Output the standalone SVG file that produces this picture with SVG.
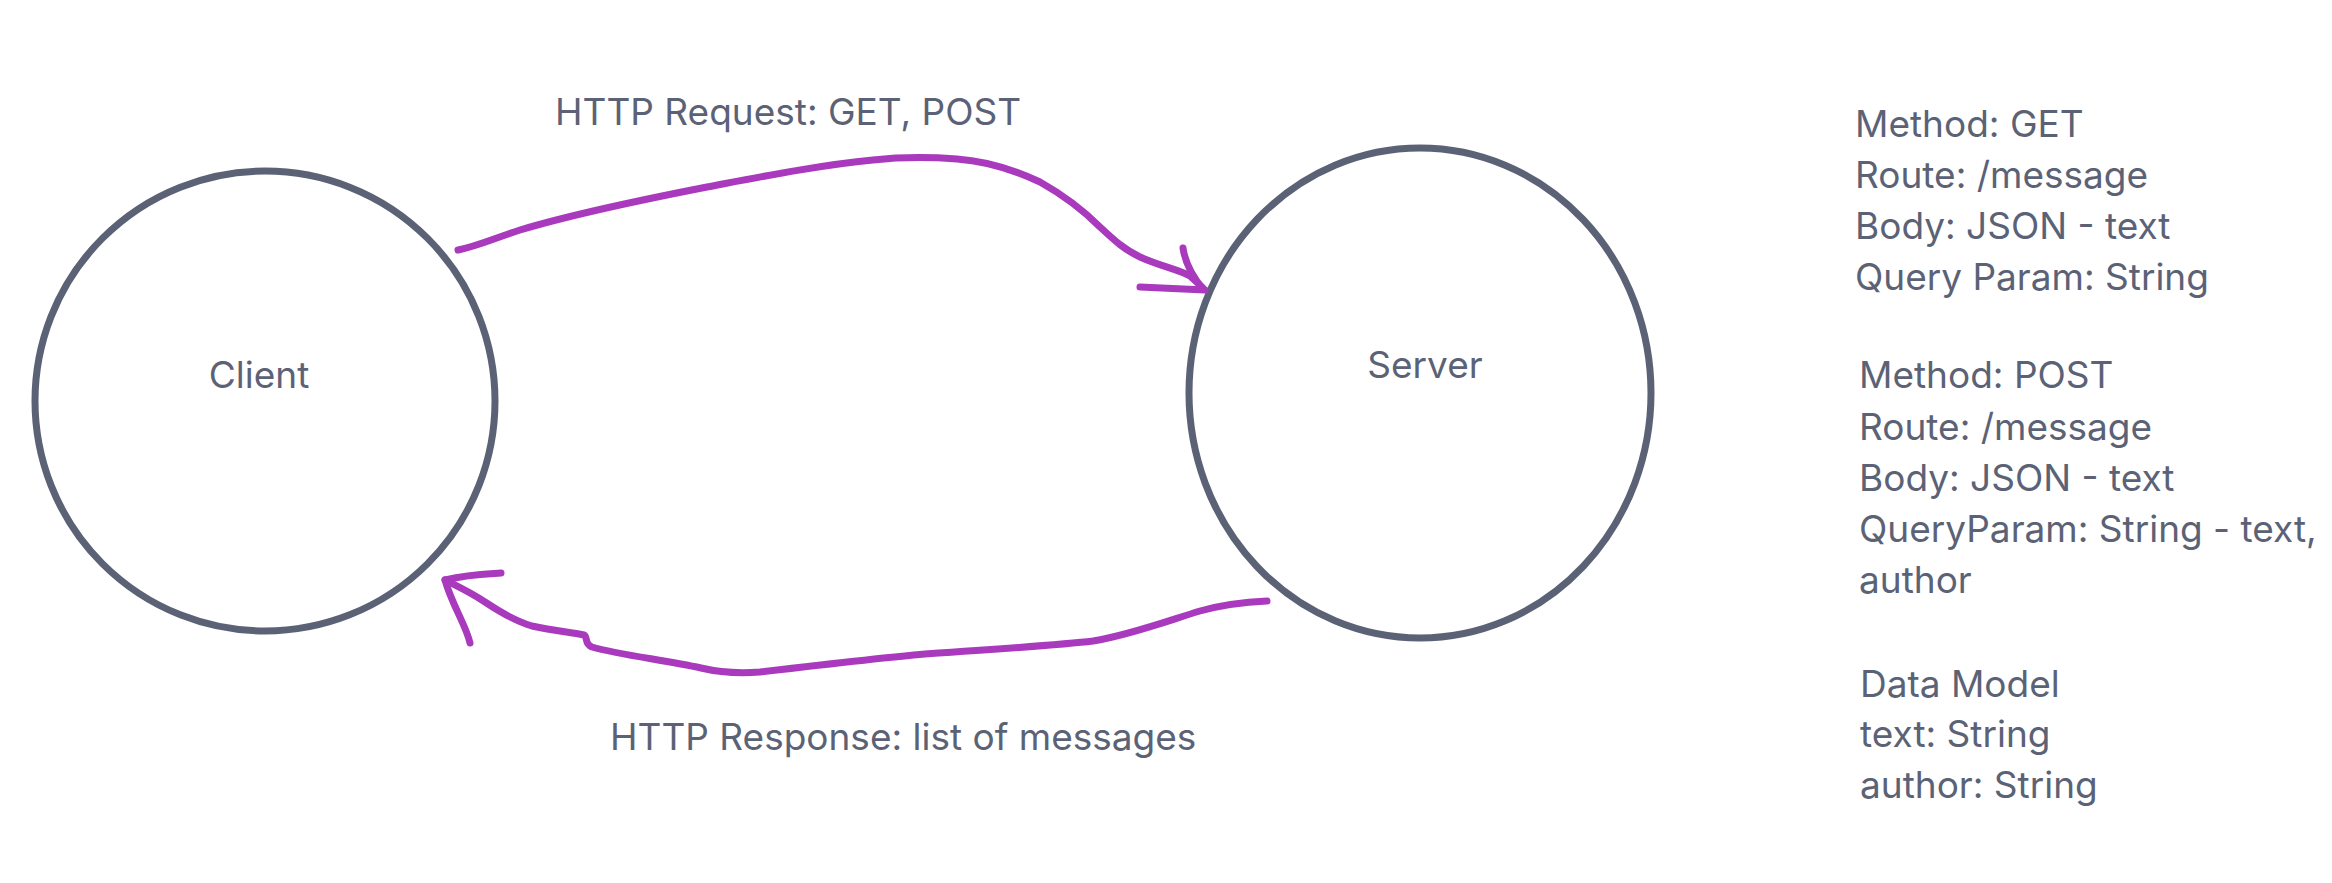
<svg xmlns="http://www.w3.org/2000/svg" width="2332" height="883" viewBox="0 0 2332 883">
<style>
  .shape { fill: #ffffff; stroke: #5b6276; stroke-width: 7; }
  .lbl { font-family: Inter, "Noto Sans", "Liberation Sans", sans-serif; font-size: 37px; fill: #5b6276; }
  .mid { text-anchor: middle; }
  .conn { fill: none; stroke: #a93abd; stroke-width: 7; stroke-linecap: round; stroke-linejoin: round; }
</style>
<rect width="2332" height="883" fill="#ffffff"/>
<g id="client">
  <ellipse class="shape" cx="265" cy="401" rx="230" ry="230"/>
  <text class="lbl mid" x="259" y="388">Client</text>
</g>
<g id="server">
  <ellipse class="shape" cx="1420" cy="393" rx="231" ry="245"/>
  <text class="lbl mid" x="1425" y="378">Server</text>
</g>
<g id="connectors">
  <path class="conn" d="M458,250 C478,246 495,238 520,230 C560,218 620,204 707,187 C760,177 820,165 873,160 C900,157 930,157 957,159 C985,161 1010,168 1040,182 C1065,196 1085,212 1100,227 C1115,241 1125,250 1140,257 C1160,266 1180,270 1190,276 L1203,288"/>
  <path class="conn" d="M1183,248 C1185,262 1192,276 1203,289 M1140,287 L1205,290"/>
  <path class="conn" d="M1267,601 C1245,602 1225,604 1200,611 C1170,620 1130,635 1093,641 C1060,645 1000,649 925,654 C890,657 820,665 760,672 C735,674 718,672 701,668 C665,660 620,655 592,647 C584,644 588,637 584,635 C575,633 550,630 532,626 C515,621 500,612 485,602 C470,592 455,585 445,580"/>
  <path class="conn" d="M501,573 C485,574 470,574 445,580 C452,605 466,625 470,643"/>
</g>
<g id="label-request">
  <text class="lbl" x="555" y="125">HTTP Request: GET, POST</text>
</g>
<g id="label-response">
  <text class="lbl" x="610" y="750">HTTP Response: list of messages</text>
</g>
<g id="get-spec">
  <text class="lbl" x="1855" y="137">Method: GET</text>
  <text class="lbl" x="1855" y="188">Route: /message</text>
  <text class="lbl" x="1855" y="239">Body: JSON - text</text>
  <text class="lbl" x="1855" y="290">Query Param: String</text>
</g>
<g id="post-spec">
  <text class="lbl" x="1859" y="388">Method: POST</text>
  <text class="lbl" x="1859" y="440">Route: /message</text>
  <text class="lbl" x="1859" y="491">Body: JSON - text</text>
  <text class="lbl" x="1859" y="542">QueryParam: String - text,</text>
  <text class="lbl" x="1859" y="593">author</text>
</g>
<g id="data-model">
  <text class="lbl" x="1860" y="697">Data Model</text>
  <text class="lbl" x="1860" y="747">text: String</text>
  <text class="lbl" x="1860" y="798">author: String</text>
</g>
</svg>
